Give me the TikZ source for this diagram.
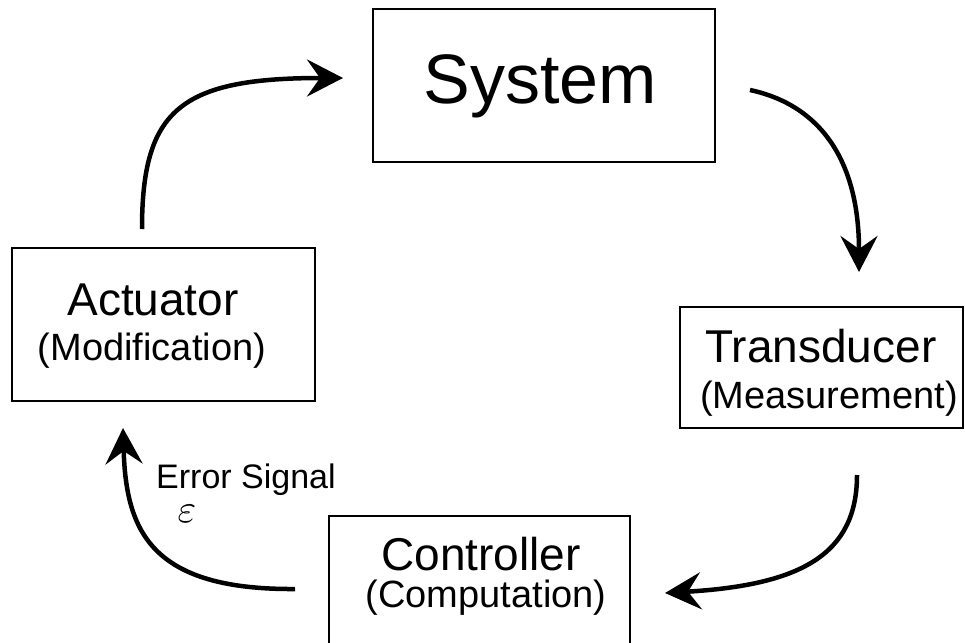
\documentclass[tikz,border=0pt]{standalone}
\usepackage{fontspec}
\setmainfont{Liberation Sans}
\usetikzlibrary{arrows.meta}
\begin{document}
\begin{tikzpicture}[x=1pt,y=-1pt,
  blk/.style={draw, line width=2pt, inner sep=0pt},
  flow/.style={line width=4.5pt, -{Stealth[length=36pt,width=37pt,inset=13pt]}},
  big/.style={font=\fontsize{70}{70}\selectfont, anchor=base, inner sep=0pt},
  head/.style={font=\fontsize{46}{46}\selectfont, anchor=base, inner sep=0pt},
  sub/.style={font=\fontsize{38}{38}\selectfont, anchor=base, inner sep=0pt},
  note/.style={font=\fontsize{34}{34}\selectfont, anchor=base, inner sep=0pt}]
\clip (0,0) rectangle (965,642);

% blocks of the loop
\node[blk, minimum width=342pt, minimum height=153pt] (sys) at (544,85.5) {};
\node[blk, minimum width=303pt, minimum height=153pt] (act) at (163.5,324.5) {};
\node[blk, minimum width=283pt, minimum height=121pt] (trn) at (821.5,367.5) {};
\node[blk, minimum width=301pt, minimum height=154pt] (ctl) at (479.5,593) {};

% block captions
\node[big]  (sysT) at (540,103) {System};
\node[head] (actT) at (153,315) {Actuator};
\node[sub]  (actS) at (152,360) {(Modification)};
\node[head] (trnT) at (821,362) {Transducer};
\node[sub]  (trnS) at (829,408) {(Measurement)};
\node[head] (ctlT) at (481,570) {Controller};
\node[sub]  (ctlS) at (486,607) {(Computation)};

% error signal label
\node[note] (err) at (246,488) {Error Signal};
\node[scale=4, anchor=base, inner sep=0pt,
      text height=4.3pt, text depth=0pt] (eps) at (187,522) {$\varepsilon$};

% arrow end points
\coordinate (a1s) at (142,229);
\coordinate (a1e) at (343,78);
\coordinate (a2s) at (750,90);
\coordinate (a2e) at (859,272);
\coordinate (a3s) at (857,475);
\coordinate (a3e) at (665,593);
\coordinate (a4s) at (295,589);
\coordinate (a4e) at (123,428);

% feedback loop arrows
\draw[flow] (a1s) .. controls (142,110) and (180,78) .. (a1e);
\draw[flow] (a2s) .. controls (820,105) and (859,160) .. (a2e);
\draw[flow] (a3s) .. controls (857,555) and (800,585) .. (a3e);
\draw[flow] (a4s) .. controls (150,590) and (126,530) .. (a4e);
\end{tikzpicture}
\end{document}
